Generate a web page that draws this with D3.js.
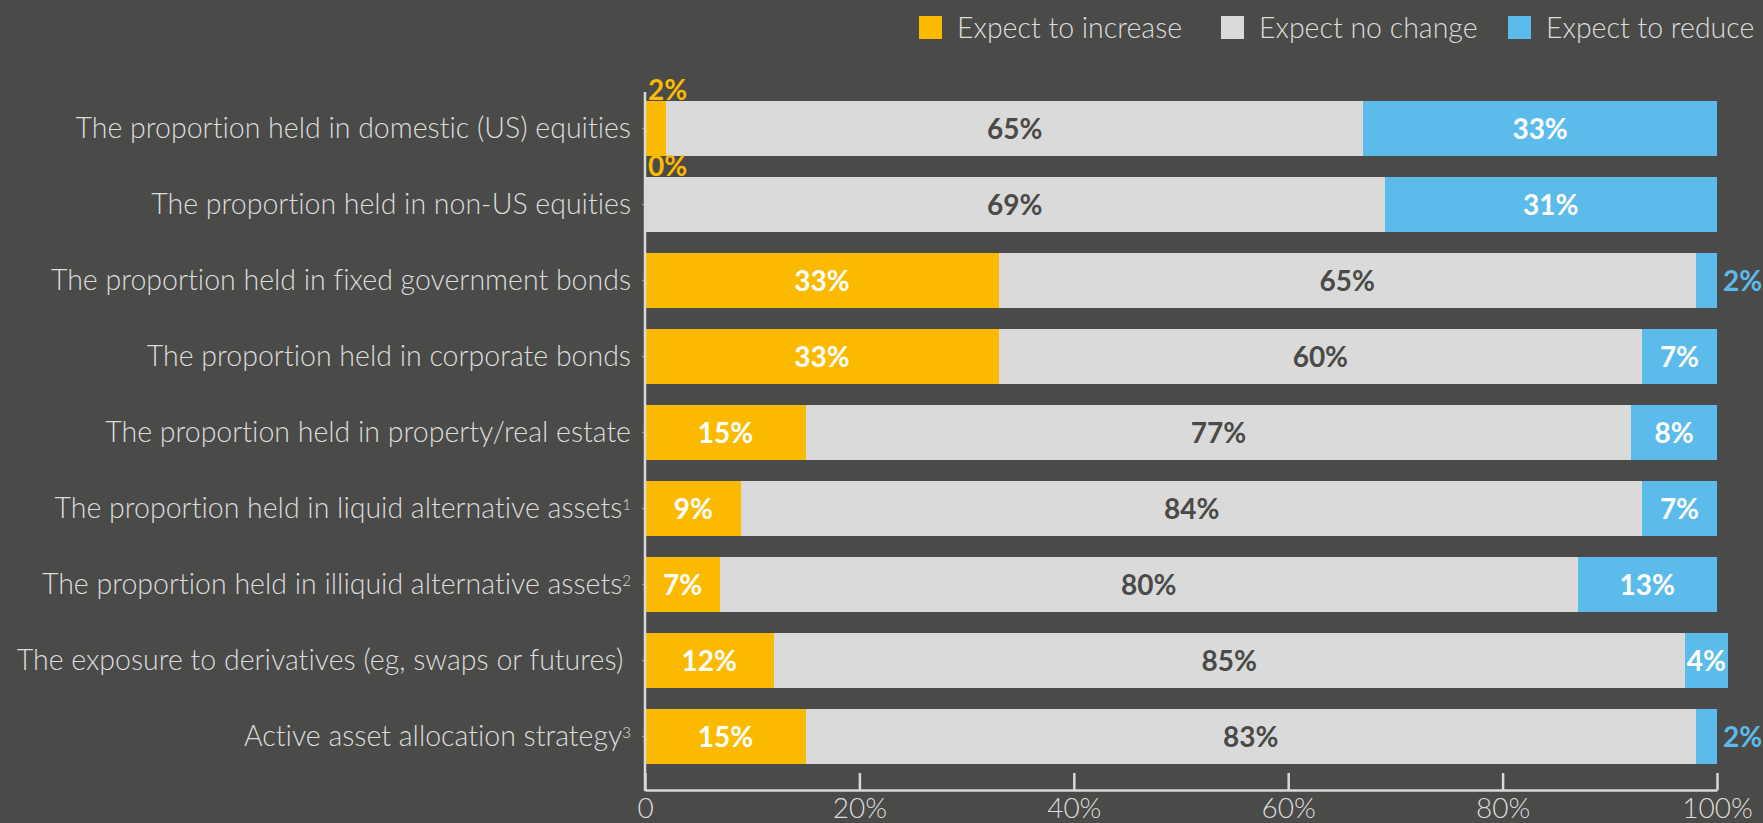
<!DOCTYPE html>
<html>
<head>
<meta charset="utf-8">
<script src="https://cdn.jsdelivr.net/npm/d3@7"></script>
<style>
  html, body { margin: 0; padding: 0; background: #4a4a48; overflow: hidden; }
  svg { display: block; }
  text { font-family: Lato, "Open Sans", sans-serif; font-variant-ligatures: none; font-feature-settings: "liga" 0, "dlig" 0; }
</style>
</head>
<body>
<svg id="chart" width="1763" height="823"></svg>
<script>
// Survey responses: expected change in allocation, by asset class (%)
const categories = [
  "The proportion held in domestic (US) equities",
  "The proportion held in non-US equities",
  "The proportion held in fixed government bonds",
  "The proportion held in corporate bonds",
  "The proportion held in property/real estate",
  "The proportion held in liquid alternative assets",
  "The proportion held in illiquid alternative assets",
  "The exposure to derivatives (eg, swaps or futures) ",
  "Active asset allocation strategy"
];
const footnotes = ["", "", "", "", "", "1", "2", "", "3"];

const expectIncrease = [2, 0, 33, 33, 15, 9, 7, 12, 15];
const expectNoChange = [65, 69, 65, 60, 77, 84, 80, 85, 83];
const expectReduce   = [33, 31, 2, 7, 8, 7, 13, 4, 2];

const seriesNames = ["Expect to increase", "Expect no change", "Expect to reduce"];
const xTickValues = [0, 20, 40, 60, 80, 100];
const xTickLabels = ["0", "20%", "40%", "60%", "80%", "100%"];

const colors = ["#fbba00", "#dadada", "#5bbbeb"];
const innerLabelColors = ["#ffffff", "#4a4a49", "#ffffff"];
const axisColor = "#d9d9d9";
const textColor = "#dcdcdc";

const svg = d3.select("#chart");

const x = d3.scaleLinear().domain([0, 100]).range([645, 1717]);
const y = d3.scaleBand()
  .domain(categories)
  .range([90.5, 774.5])
  .paddingInner(21 / 76)
  .paddingOuter(21 / 152);

const axisY = 790;

// Stack the three series per row
const rows = categories.map((c, i) => ({
  category: c,
  values: [expectIncrease[i], expectNoChange[i], expectReduce[i]]
}));
const segments = [];
rows.forEach((r, i) => {
  let acc = 0;
  r.values.forEach((v, s) => {
    segments.push({ row: i, category: r.category, series: s, value: v, x0: acc, x1: acc + v });
    acc += v;
  });
});

// Bars
svg.append("g")
  .attr("shape-rendering", "crispEdges")
  .selectAll("rect")
  .data(segments.filter(d => d.value > 0))
  .join("rect")
  .attr("x", d => Math.round(x(d.x0)))
  .attr("y", d => y(d.category))
  .attr("width", d => Math.round(x(d.x1)) - Math.round(x(d.x0)))
  .attr("height", y.bandwidth())
  .attr("fill", d => colors[d.series]);

// X axis: ticks point up into the plot, labels below
const xAxis = d3.axisBottom(x)
  .tickValues(xTickValues)
  .tickFormat((d, i) => xTickLabels[i])
  .tickSizeInner(-17)
  .tickSizeOuter(0)
  .tickPadding(8);

const gx = svg.append("g")
  .attr("transform", `translate(0,${axisY})`)
  .call(xAxis);
gx.select(".domain").attr("stroke", axisColor).attr("stroke-width", 2.5);
gx.selectAll(".tick line").attr("stroke", axisColor).attr("stroke-width", 2.5);
gx.selectAll(".tick text")
  .attr("fill", textColor)
  .style("font-size", "28px")
  .style("font-weight", 300)
  .style("font-family", "Lato, 'Open Sans', sans-serif");

// Y axis line
const yAxis = d3.axisLeft(y).tickSizeInner(3).tickSizeOuter(0).tickFormat("");
const gy = svg.append("g")
  .attr("transform", `translate(${x(0)},0)`)
  .call(yAxis);
gy.select(".domain").remove();
gy.selectAll(".tick line").attr("stroke", "#8a8a88").attr("stroke-width", 1.5);
svg.append("line")
  .attr("x1", x(0)).attr("x2", x(0))
  .attr("y1", 92).attr("y2", axisY + 1)
  .attr("stroke", axisColor)
  .attr("stroke-width", 2.5);

// Category labels with footnote markers
const catLabels = svg.append("g")
  .selectAll("text")
  .data(categories)
  .join("text")
  .attr("x", x(0) - 14)
  .attr("y", d => y(d) + y.bandwidth() / 2)
  .attr("dy", "0.35em")
  .attr("text-anchor", "end")
  .attr("fill", textColor)
  .style("font-size", "28.5px")
  .style("font-weight", 300)
  .style("white-space", "pre");
catLabels.append("tspan").text(d => d);
catLabels.filter((d, i) => footnotes[i] !== "")
  .append("tspan")
  .attr("dy", "-0.55em")
  .style("font-size", "15px")
  .text(d => footnotes[categories.indexOf(d)]);

// Value labels
const labels = svg.append("g")
  .selectAll("text")
  .data(segments)
  .join("text")
  .style("font-size", "28px")
  .style("font-weight", 700)
  .text(d => d.value + "%");

labels.each(function(d) {
  const t = d3.select(this);
  const top = y(d.category);
  const mid = top + y.bandwidth() / 2;
  if (d.value <= 2 && d.series === 0) {
    // small increase: above the bar, at its left edge
    t.attr("x", x(0) + 3).attr("y", top - 1).attr("text-anchor", "start")
     .attr("fill", colors[0]);
  } else if (d.value <= 2 && d.series === 2) {
    // small reduction: to the right of the bar
    t.attr("x", x(d.x1) + 6).attr("y", mid).attr("dy", "0.36em")
     .attr("text-anchor", "start").attr("fill", colors[2]);
  } else {
    t.attr("x", (x(d.x0) + x(d.x1)) / 2).attr("y", mid).attr("dy", "0.36em")
     .attr("text-anchor", "middle").attr("fill", innerLabelColors[d.series]);
  }
});

// Legend
const legendX = [919, 1221, 1508];
const legend = svg.append("g")
  .selectAll("g")
  .data(seriesNames)
  .join("g")
  .attr("transform", (d, i) => `translate(${legendX[i]},16)`);
legend.append("rect")
  .attr("width", 23).attr("height", 23)
  .attr("fill", (d, i) => colors[i]);
legend.append("text")
  .attr("x", 38).attr("y", 11.5).attr("dy", "0.36em")
  .attr("fill", textColor)
  .style("font-size", "28.5px")
  .style("font-weight", 300)
  .text(d => d);
</script>
</body>
</html>
